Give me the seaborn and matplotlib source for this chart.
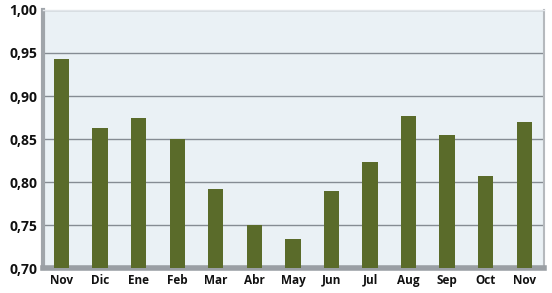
import matplotlib
matplotlib.use("Agg")
import matplotlib.pyplot as plt
import seaborn as sns
import pandas as pd

months = ["Nov", "Dic", "Ene", "Feb", "Mar", "Abr", "May", "Jun", "Jul", "Aug", "Sep", "Oct", "Nov"]
values = [0.943, 0.863, 0.874, 0.850, 0.792, 0.750, 0.734, 0.790, 0.823, 0.877, 0.855, 0.807, 0.870]
yticks = [0.70, 0.75, 0.80, 0.85, 0.90, 0.95, 1.00]
ytick_labels = ["0,70", "0,75", "0,80", "0,85", "0,90", "0,95", "1,00"]

sns.set_theme(style="white")
plt.rcParams['font.family'] = ['Open Sans', 'DejaVu Sans']

df = pd.DataFrame({"pos": range(len(months)), "value": values})

fig = plt.figure(figsize=(5.52, 2.93), dpi=100)
ax = fig.add_axes([0.078, 0.085, 0.908, 0.881])
ax.set_facecolor("#EAF1F5")

sns.barplot(data=df, x="pos", y="value", color="#5A6B2A", width=0.4,
            saturation=1, ax=ax, zorder=3, edgecolor="none", linewidth=0)

ax.set_ylim(0.70, 1.00)
ax.set_yticks(yticks)
ax.set_yticklabels(ytick_labels, fontsize=10, fontweight="bold", color="#111111")
ax.set_xticks(range(len(months)))
ax.set_xticklabels(months, fontsize=8.5, fontweight="bold", color="#111111")
ax.set_xlabel("")
ax.set_ylabel("")
ax.set_xlim(-0.48, len(months) - 0.48)
ax.grid(axis="y", color="#858C93", linewidth=1.0, zorder=1)
ax.tick_params(axis="both", length=0, pad=4)

ax.spines["top"].set_color("#E2E6EA")
ax.spines["top"].set_linewidth(1)
ax.spines["left"].set_color("#A0A5AA")
ax.spines["left"].set_linewidth(3)
ax.spines["bottom"].set_color("#9A9FA4")
ax.spines["bottom"].set_linewidth(4)
ax.spines["right"].set_color("#B5B9BD")
ax.spines["right"].set_linewidth(1.5)

fig.savefig("out.png", dpi=100, facecolor="white")
